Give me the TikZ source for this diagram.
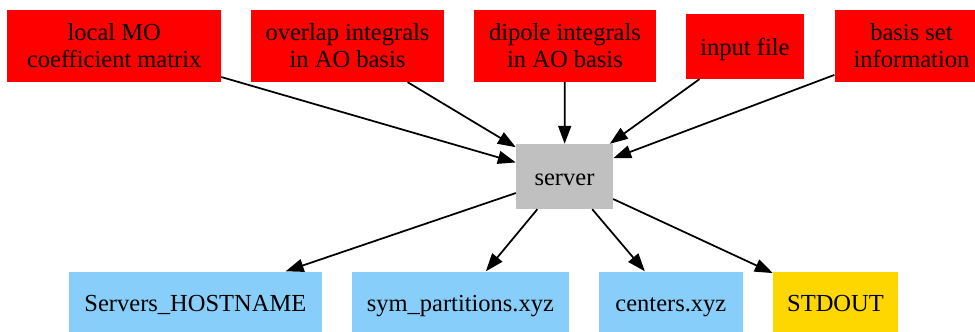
\documentclass[tikz,border=0pt]{standalone}
\usepackage{fontspec}
\setmainfont{Liberation Serif}
\usetikzlibrary{arrows.meta}
\definecolor{srvgray}{RGB}{192,192,192}
\definecolor{filesky}{RGB}{135,206,250}
\definecolor{outgold}{RGB}{255,215,0}
\tikzset{
  box/.style={rectangle, inner sep=0pt, align=center,
    font=\fontsize{24.5}{27}\selectfont, text=black},
  oneline/.style={text height=18.5pt, text depth=0pt},
  inbox/.style={box, fill=red},
  srvbox/.style={box, oneline, fill=srvgray},
  filebox/.style={box, oneline, fill=filesky},
  outbox/.style={box, oneline, fill=outgold},
  flow/.style={line width=1.75pt, -{Triangle[length=18pt,width=13pt]}}
}
\begin{document}
\begin{tikzpicture}[x=1pt, y=-1pt]
  \useasboundingbox (0,0) rectangle (975,332);
  \begin{scope}
    \clip (0,0) rectangle (975,332);
    % inputs
    \node[inbox, minimum width=213.7pt, minimum height=72pt] (mo) at (114.2,46) {local MO\\coefficient matrix};
    \node[inbox, minimum width=193pt, minimum height=72pt] (ovl) at (347.5,46) {overlap integrals\\in AO basis};
    \node[inbox, minimum width=181.7pt, minimum height=72pt] (dip) at (565,46) {dipole integrals\\in AO basis};
    \node[inbox, oneline, minimum width=118pt, minimum height=65.3pt] (inp) at (745,46.3) {input file};
    \node[inbox, minimum width=154pt, minimum height=72pt] (bas) at (911.5,46) {basis set\\information};
    % central process
    \node[srvbox, minimum width=97pt, minimum height=65pt] (srv) at (564.5,176.5) {server};
    % outputs
    \node[filebox, minimum width=252.7pt, minimum height=61pt] (host) at (195.4,302) {Servers\_HOSTNAME};
    \node[filebox, minimum width=217.3pt, minimum height=61pt] (sym) at (460.4,302) {sym\_partitions.xyz};
    \node[filebox, minimum width=143.7pt, minimum height=61pt] (cen) at (670.9,302) {centers.xyz};
    \node[outbox, minimum width=125pt, minimum height=61pt] (std) at (835.5,302) {STDOUT};
    % connectors
    \foreach \src in {mo,ovl,dip,inp,bas} \draw[flow] (\src) -- (srv);
    \foreach \dst in {host,sym,cen,std} \draw[flow] (srv) -- (\dst);
  \end{scope}
\end{tikzpicture}
\end{document}
